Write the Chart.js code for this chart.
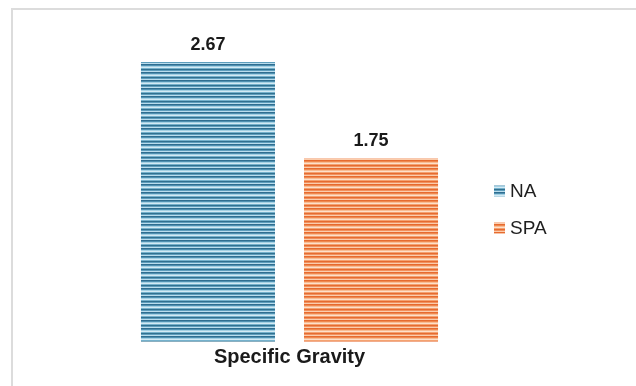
<!DOCTYPE html>
<html>
<head>
<meta charset="utf-8">
<script src="https://cdn.jsdelivr.net/npm/chart.js@4/dist/chart.umd.min.js"></script>
<style>
  html, body { margin: 0; padding: 0; background: #ffffff; }
  #wrap { position: relative; width: 636px; height: 386px; overflow: hidden; }
  #frame { position: absolute; left: 11px; top: 8px; width: 700px; height: 500px;
           border-left: 2px solid #dcdcdc; border-top: 2px solid #dcdcdc; box-sizing: border-box; }
  canvas { position: absolute; left: 0; top: 0; }
</style>
</head>
<body>
<div id="wrap">
  <div id="frame"></div>
  <canvas id="chart" width="636" height="386"></canvas>
</div>
<script>
// Categories and series
const categories = ['Specific Gravity'];
const seriesNames = ['NA', 'SPA'];
const naValues = [2.67];
const spaValues = [1.75];

// Horizontal stripe fills for each series
const blueStripes = ['#2f6e90', '#4f90b1', '#a3d0e3', '#d4eaf4', '#74b1cc', '#31708f', '#5e9ebd', '#badded'];
const orangeStripes = ['#e66b30', '#ef884f', '#f8bc93', '#fde0cb', '#f4a170', '#e66b30', '#f1915e', '#fbcdad'];

function stripePattern(rows) {
  const c = document.createElement('canvas');
  c.width = 4; c.height = rows.length;
  const g = c.getContext('2d');
  rows.forEach((col, i) => { g.fillStyle = col; g.fillRect(0, i, 4, 1); });
  return g.createPattern(c, 'repeat');
}

const ctx = document.getElementById('chart').getContext('2d');
const naFill = stripePattern(blueStripes);
const spaFill = stripePattern(orangeStripes);

const FONT = "'Liberation Sans', Arial, Helvetica, sans-serif";

// Value labels above each bar
const valueLabels = {
  id: 'valueLabels',
  afterDatasetsDraw(chart) {
    const c = chart.ctx;
    c.save();
    c.font = 'bold 18px ' + FONT;
    c.fillStyle = '#1a1a1a';
    c.textAlign = 'center';
    c.textBaseline = 'middle';
    chart.data.datasets.forEach((ds, di) => {
      chart.getDatasetMeta(di).data.forEach((el, i) => {
        c.fillText(ds.data[i].toFixed(2), el.x, el.y - 17);
      });
    });
    c.restore();
  }
};

// Legend on the right side
const sideLegend = {
  id: 'sideLegend',
  afterDraw(chart) {
    const c = chart.ctx;
    c.save();
    c.font = '19px ' + FONT;
    c.textBaseline = 'middle';
    c.textAlign = 'left';
    chart.data.datasets.forEach((ds, i) => {
      const cy = 191 + i * 37;
      c.fillStyle = ds.backgroundColor;
      c.fillRect(494, cy - 5.5, 11, 11);
      c.fillStyle = '#1f1f1f';
      c.fillText(ds.label, 510, cy + 1);
    });
    c.restore();
  }
};

new Chart(ctx, {
  type: 'bar',
  data: {
    labels: categories,
    datasets: [
      { label: seriesNames[0], data: naValues, backgroundColor: naFill, borderWidth: 0 },
      { label: seriesNames[1], data: spaValues, backgroundColor: spaFill, borderWidth: 0 }
    ]
  },
  options: {
    responsive: false,
    animation: false,
    events: [],
    categoryPercentage: 0.605,
    barPercentage: 0.822,
    layout: { padding: { left: 20, right: 77, top: 27.5, bottom: 12.3 } },
    plugins: {
      legend: { display: false },
      tooltip: { enabled: false }
    },
    scales: {
      x: {
        grid: { display: false, drawTicks: false },
        border: { display: false },
        ticks: { color: '#1a1a1a', padding: 4, font: { family: FONT, size: 20, weight: 'bold' } }
      },
      y: {
        display: false,
        min: 0,
        max: 3
      }
    }
  },
  plugins: [valueLabels, sideLegend]
});
</script>
</body>
</html>
